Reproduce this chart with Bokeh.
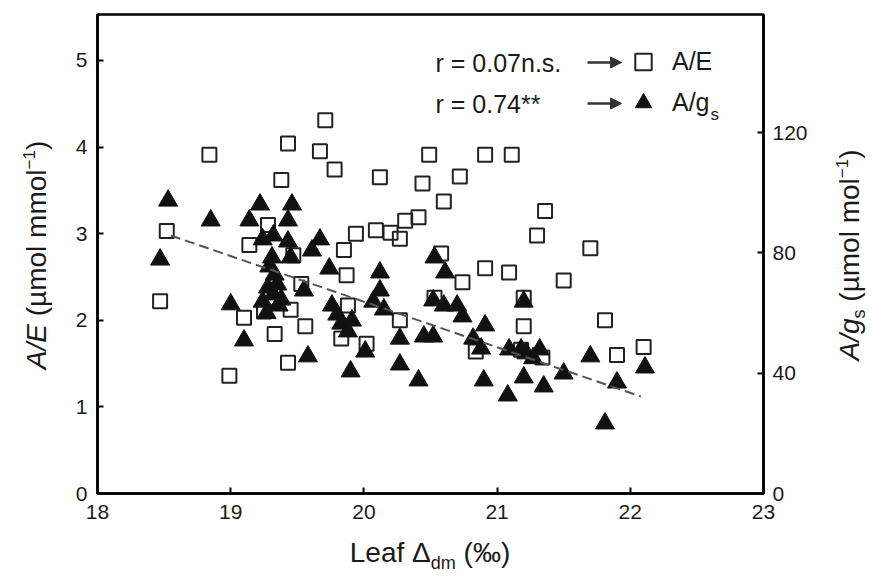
from bokeh.plotting import figure
from bokeh.models import (Range1d, LinearAxis, Label, Arrow, NormalHead, FixedTicker,
                          Legend, LegendItem, Div)
from bokeh.layouts import row, column
from bokeh.embed import file_html
from bokeh.resources import INLINE

# ---------------- data ----------------
# A/E (open squares, left axis)
sq_x = [18.47, 18.52, 18.84, 18.99, 19.10, 19.14, 19.25, 19.28, 19.33, 19.43,
        19.43, 19.38, 19.45, 19.47, 19.56, 19.53, 19.67, 19.71, 19.78, 19.83,
        19.85, 19.87, 19.88, 19.94, 20.02, 20.09, 20.20, 20.12, 20.27, 20.27,
        20.31, 20.41, 20.44, 20.49, 20.53, 20.58, 20.60, 20.72, 20.74, 20.84,
        20.91, 20.91, 21.09, 21.11, 21.20, 21.20, 21.18, 21.30, 21.36, 21.34,
        21.50, 21.70, 21.81, 21.90, 22.10]
sq_ae = [2.22, 3.03, 3.91, 1.36, 2.03, 2.87, 2.10, 3.10, 1.84, 1.51,
         4.04, 3.62, 2.12, 2.75, 1.93, 2.42, 3.95, 4.31, 3.74, 1.79,
         2.81, 2.52, 2.17, 3.00, 1.73, 3.04, 3.01, 3.65, 2.94, 2.00,
         3.15, 3.19, 3.58, 3.91, 2.26, 2.77, 3.37, 3.66, 2.44, 1.64,
         3.91, 2.60, 2.55, 3.91, 2.26, 1.93, 1.66, 2.98, 3.26, 1.57,
         2.46, 2.83, 2.00, 1.60, 1.69]

# A/gs (filled triangles, right axis)
tri_x = [18.53, 18.47, 18.85, 19.00, 19.10, 19.22, 19.14, 19.46, 19.43, 19.24,
         19.32, 19.43, 19.31, 19.33, 19.28, 19.32, 19.24, 19.36, 19.45, 19.55,
         19.58, 19.67, 19.61, 19.74, 19.76, 19.80, 19.83, 19.88, 19.90, 19.91,
         20.01, 20.12, 20.12, 20.07, 20.15, 20.27, 20.27, 20.41, 20.45, 20.52,
         20.53, 20.61, 20.60, 20.70, 20.74, 20.82, 20.90, 20.91, 21.08, 21.09,
         21.18, 21.22, 21.20, 21.20, 21.32, 21.35, 21.50, 21.70, 21.81, 21.90,
         22.11, 19.29, 19.35, 19.27, 19.38, 20.52, 21.27, 20.88]
tri_gs = [97.4, 77.8, 90.8, 62.9, 50.9, 96.1, 90.8, 96.1, 90.8, 84.5,
          85.8, 83.8, 78.5, 72.8, 68.5, 66.2, 63.8, 62.5, 78.5, 67.5,
          45.6, 84.5, 80.8, 74.8, 62.5, 59.5, 56.5, 53.9, 40.6, 57.5,
          47.2, 73.5, 67.5, 63.8, 61.2, 51.5, 42.9, 37.6, 52.2, 52.2,
          78.5, 73.5, 62.5, 62.5, 58.9, 51.5, 37.6, 55.9, 32.6, 47.9,
          47.9, 46.6, 38.6, 63.8, 47.9, 35.6, 39.9, 45.6, 23.3, 36.9,
          41.9, 75.5, 69.5, 60.0, 64.5, 64.2, 45.0, 48.2]

# regression line for A/gs (r = 0.74**)
fit_x = [18.55, 22.08]
fit_intercept = 367.0
fit_slope = -15.16

x_ticks = [18, 19, 20, 21, 22, 23]
left_ticks = [0, 1, 2, 3, 4, 5]
right_ticks = [0, 40, 80, 120]

# ---------------- layout (px) ----------------
LEFT_DIV, RIGHT_DIV, BOTTOM_DIV = 52, 43, 41
FL, FT, FW, FH = 97, 14, 666, 479          # frame position on the page
FONT = "Liberation Sans"
TXT = "#1a1a1a"
border_left = FL - LEFT_DIV
border_right = 873 - RIGHT_DIV - FL - FW
border_bottom = 576 - BOTTOM_DIV - FT - FH

p = figure(frame_width=FW, frame_height=FH,
           x_range=Range1d(18, 23), y_range=Range1d(0, 5.53),
           output_backend="svg", toolbar_location=None,
           min_border_left=border_left, min_border_right=border_right,
           min_border_top=FT, min_border_bottom=border_bottom, margin=0)
p.extra_y_ranges = {"gs": Range1d(0, 159.3)}
p.grid.visible = False
p.outline_line_color = "black"
p.outline_line_width = 2.5
p.outline_line_alpha = 1.0
p.background_fill_color = "white"
p.border_fill_color = "white"

p.xaxis.ticker = FixedTicker(ticks=x_ticks)
p.yaxis.ticker = FixedTicker(ticks=left_ticks)
raxis = LinearAxis(y_range_name="gs", ticker=FixedTicker(ticks=right_ticks))
p.add_layout(raxis, "right")

for ax in [p.xaxis[0], p.yaxis[0], raxis]:
    ax.major_tick_in = 6
    ax.major_tick_out = 0
    ax.minor_tick_in = 0
    ax.minor_tick_out = 0
    ax.axis_line_width = 2.5
    ax.axis_line_color = "black"
    ax.major_tick_line_width = 2
    ax.major_tick_line_color = "black"
    ax.major_label_text_font = FONT
    ax.major_label_text_font_size = "21px"
    ax.major_label_text_color = TXT
p.xaxis.major_label_standoff = 11
p.yaxis.major_label_standoff = 10
raxis.major_label_standoff = 9

# ---------------- glyphs ----------------
sq_r = p.scatter(sq_x, sq_ae, marker="square", size=14, fill_color=None,
                 line_color="#222222", line_width=2)
tri_r = p.scatter(tri_x, tri_gs, marker="triangle", size=19, fill_color="#111111",
                  line_color="#111111", line_width=1, y_range_name="gs")
p.line(fit_x, [fit_intercept + fit_slope * x for x in fit_x], y_range_name="gs",
       line_color="#555555", line_width=2, line_dash="10 5")


def sx(px):
    return px - FL


def sy(py):
    return FT + FH - py


# ---------------- legend ----------------
legend = Legend(items=[LegendItem(label="A/E", renderers=[sq_r]),
                       LegendItem(label="A/g", renderers=[tri_r])],
                location=(sx(622), sy(123)), orientation="vertical",
                glyph_width=42, glyph_height=41, spacing=0, padding=0, margin=0,
                label_standoff=8, label_text_font=FONT, label_text_font_size="25px",
                label_text_color=TXT, border_line_alpha=0, background_fill_alpha=0)
p.add_layout(legend)
p.add_layout(Label(x=sx(710), y=sy(114), x_units="screen", y_units="screen", text="s",
                   text_font=FONT, text_font_size="17px", text_color=TXT,
                   text_baseline="alphabetic"))

for row_py, txt in [(62, "r = 0.07n.s."), (103, "r = 0.74**")]:
    p.add_layout(Label(x=sx(435), y=sy(row_py), x_units="screen", y_units="screen",
                       text=txt, text_font=FONT, text_font_size="25px", text_color=TXT,
                       text_baseline="middle", text_align="left"))
    p.add_layout(Arrow(x_start=sx(587), y_start=sy(row_py), x_end=sx(621), y_end=sy(row_py),
                       start_units="screen", end_units="screen",
                       line_color="#333333", line_width=2.5,
                       end=NormalHead(size=11, fill_color="#333333", line_color="#333333")))

# ---------------- axis titles (HTML, for italics / sub- and superscripts) ----------------
BASE = f"font-family:'{FONT}';font-size:28px;color:{TXT};white-space:nowrap;line-height:32px;"


def vtitle(html, cx, cy, w):
    return (f"<div style='position:relative;width:{w}px;height:576px;overflow:visible;'>"
            f"<div style=\"position:absolute;left:{cx}px;top:{cy}px;{BASE}"
            f"transform:translate(-50%,-50%) rotate(-90deg);\">{html}</div></div>")


left_html = vtitle("<i>A/E</i> (µmol mmol<span style='font-size:17px;vertical-align:11px'>−1</span>)",
                   33, 255, LEFT_DIV)
right_html = vtitle("<i>A/g</i><span style='font-size:18px;vertical-align:-6px'>s</span>"
                    " (µmol mol<span style='font-size:17px;vertical-align:11px'>−1</span>)",
                    851 - (873 - RIGHT_DIV), 255, RIGHT_DIV)
fig_w = border_left + FW + border_right
frame_cx = border_left + FW / 2
bottom_html = (f"<div style='position:relative;width:{fig_w}px;height:{BOTTOM_DIV}px;'>"
               f"<div style=\"position:absolute;left:{frame_cx}px;top:{558 - (576 - BOTTOM_DIV)}px;{BASE}"
               f"transform:translate(-50%,-50%);\">Leaf Δ"
               f"<span style='font-size:18px;vertical-align:-7px'>dm</span> (‰)</div></div>")

left_div = Div(text=left_html, width=LEFT_DIV, height=576, margin=0)
right_div = Div(text=right_html, width=RIGHT_DIV, height=576, margin=0)
bottom_div = Div(text=bottom_html, width=fig_w, height=BOTTOM_DIV, margin=0)

layout = row(left_div, column(p, bottom_div, spacing=0), right_div, spacing=0)

open("out.html", "w").write(file_html(layout, INLINE))
